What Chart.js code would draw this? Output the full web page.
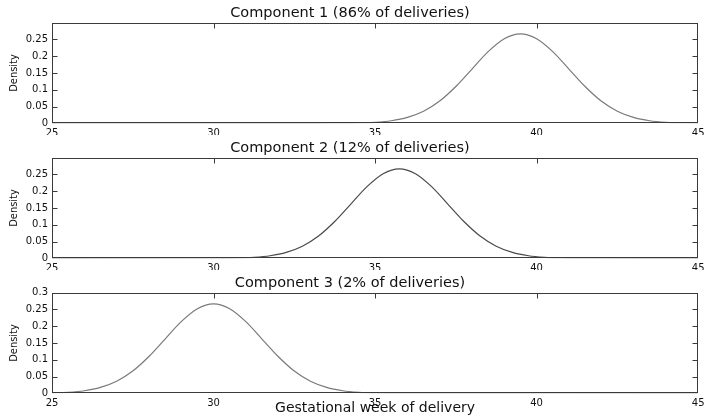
<!DOCTYPE html>
<html><head><meta charset="utf-8">
<script src="https://cdn.jsdelivr.net/npm/chart.js@4/dist/chart.umd.min.js"></script>
<style>body{margin:0;background:#fff;} canvas{position:absolute;left:0;}</style>
</head><body>
<canvas id="c1" width="709" height="135" style="top:0px"></canvas>
<canvas id="c2" width="709" height="135" style="top:135px"></canvas>
<canvas id="c3" width="709" height="147" style="top:270px"></canvas>
<script>
const weekTicks = [25, 30, 35, 40, 45];
const densityTicks = [0, 0.05, 0.1, 0.15, 0.2, 0.25, 0.3];
const panelTitles = ['Component 1 (86% of deliveries)', 'Component 2 (12% of deliveries)', 'Component 3 (2% of deliveries)'];
const xAxisTitle = 'Gestational week of delivery';
const yAxisTitle = 'Density';

const comp1Weeks = [25, 33, 33.5, 34, 34.5, 35, 35.5, 36, 36.5, 37, 37.5, 38, 38.5, 39, 39.5, 40, 40.5, 41, 41.5, 42, 42.5, 43, 43.5, 44, 44.5, 45];
const comp1Density = [0, 0, 0.0001, 0.0003, 0.001, 0.003, 0.0076, 0.0175, 0.036, 0.0664, 0.1097, 0.1618, 0.2137, 0.2523, 0.2667, 0.2523, 0.2137, 0.1618, 0.1097, 0.0664, 0.036, 0.0175, 0.0076, 0.003, 0.001, 0.0003];

const comp2Weeks = [25, 29.75, 30.25, 30.75, 31.25, 31.75, 32.25, 32.75, 33.25, 33.75, 34.25, 34.75, 35.25, 35.75, 36.25, 36.75, 37.25, 37.75, 38.25, 38.75, 39.25, 39.75, 40.25, 40.75, 41.25, 41.75, 45];
const comp2Density = [0, 0.0001, 0.0003, 0.001, 0.003, 0.0076, 0.0175, 0.036, 0.0664, 0.1097, 0.1618, 0.2137, 0.2523, 0.2667, 0.2523, 0.2137, 0.1618, 0.1097, 0.0664, 0.036, 0.0175, 0.0076, 0.003, 0.001, 0.0003, 0.0001, 0];

const comp3Weeks = [25, 25.5, 26, 26.5, 27, 27.5, 28, 28.5, 29, 29.5, 30, 30.5, 31, 31.5, 32, 32.5, 33, 33.5, 34, 34.5, 35, 35.5, 36, 45];
const comp3Density = [0.001, 0.003, 0.0076, 0.0175, 0.036, 0.0664, 0.1097, 0.1618, 0.2137, 0.2523, 0.2667, 0.2523, 0.2137, 0.1618, 0.1097, 0.0664, 0.036, 0.0175, 0.0076, 0.003, 0.001, 0.0003, 0.0001, 0];

const axisColor = '#3a3a3a';
Chart.defaults.font.family = "'DejaVu Sans', sans-serif";
Chart.defaults.color = '#111';

const boxTicks = {
  id: 'boxTicks',
  afterDatasetsDraw(chart) {
    const {ctx, chartArea: {left, right, top, bottom}, scales: {x, y}} = chart;
    ctx.save();
    ctx.strokeStyle = axisColor;
    ctx.lineWidth = 1;
    const L = Math.round(left) + 0.5, R = Math.round(right) - 0.5, T = Math.round(top) + 0.5, B = Math.round(bottom) - 0.5;
    ctx.strokeRect(L, T, R - L, B - T);
    ctx.beginPath();
    y.ticks.forEach((t, i) => {
      const py = Math.round(y.getPixelForTick(i)) + 0.5;
      if (py <= T + 1 || py >= B - 1) return;
      ctx.moveTo(L, py); ctx.lineTo(L + 5, py);
      ctx.moveTo(R, py); ctx.lineTo(R - 5, py);
    });
    x.ticks.forEach((t, i) => {
      const px = Math.round(x.getPixelForTick(i)) + 0.5;
      if (px <= L + 1 || px >= R - 1) return;
      ctx.moveTo(px, T); ctx.lineTo(px, T + 5);
    });
    ctx.stroke();
    ctx.restore();
  }
};

function makePanel(id, idx, weeks, density, color, showTopLabel, showXTitle) {
  const canvas = document.getElementById(id);
  const H = canvas.height;
  new Chart(canvas, {
    type: 'line',
    data: {
      datasets: [{
        data: weeks.map((w, i) => ({x: w, y: density[i]})),
        borderColor: color,
        borderWidth: 1.2,
        pointRadius: 0,
        fill: false,
        cubicInterpolationMode: 'monotone'
      }]
    },
    options: {
      responsive: false,
      animation: false,
      events: [],
      layout: {padding: {left: 0, right: 9, top: 0, bottom: 0}},
      plugins: {
        legend: {display: false},
        tooltip: {enabled: false},
        title: {
          display: true,
          text: panelTitles[idx],
          color: '#111',
          font: {size: 14.5, weight: 'normal'},
          padding: {top: 5, bottom: 0.3}
        }
      },
      scales: {
        x: {
          type: 'linear',
          min: 25, max: 45,
          afterBuildTicks: s => { s.ticks = weekTicks.map(v => ({value: v})); },
          afterFit: s => { s.height = H - 123.3; },
          grid: {display: false, drawTicks: false},
          border: {display: false},
          ticks: {font: {size: 10}, padding: 4.5, color: '#111', maxRotation: 0, autoSkip: false},
          title: {display: showXTitle, text: xAxisTitle, font: {size: 14}, color: '#111', padding: {top: 0, bottom: 0}}
        },
        y: {
          type: 'linear',
          min: 0, max: 0.3,
          afterBuildTicks: s => { s.ticks = densityTicks.map(v => ({value: v})); },
          afterFit: s => { s.width = 52; },
          grid: {display: false, drawTicks: false},
          border: {display: false},
          ticks: {
            font: {size: 10}, padding: 4, color: '#111', autoSkip: false,
            callback: v => (v === 0.3 && !showTopLabel) ? '' : String(+v.toFixed(2))
          },
          title: {
            display: true, text: yAxisTitle, color: '#111',
            font: {family: "'Liberation Sans Narrow', 'DejaVu Sans Condensed', sans-serif", size: 11},
            padding: {top: 7.4, bottom: 0}
          }
        }
      }
    },
    plugins: [boxTicks]
  });
}

makePanel('c1', 0, comp1Weeks, comp1Density, '#7a7a7a', false, false);
makePanel('c2', 1, comp2Weeks, comp2Density, '#4a4a4a', false, false);
makePanel('c3', 2, comp3Weeks, comp3Density, '#7a7a7a', true, true);
</script>
</body></html>
